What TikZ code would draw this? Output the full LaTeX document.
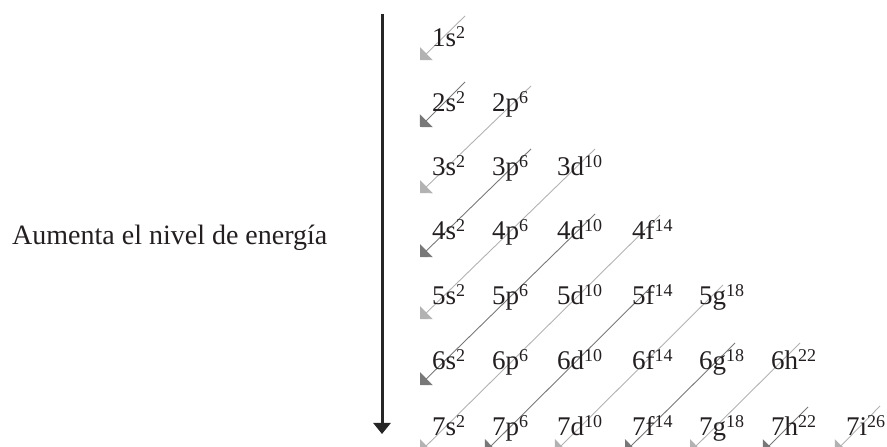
\documentclass[tikz,border=0pt]{standalone}
\usepackage{fontspec}
\setmainfont{Liberation Serif}
\usetikzlibrary{arrows.meta,backgrounds}
\definecolor{txt}{RGB}{35,31,32}
\definecolor{lightln}{RGB}{178,178,178}
\definecolor{darkln}{RGB}{120,120,120}
\newcommand{\orbtext}[3]{#1#2\raisebox{8.5pt}{\fontsize{18}{18}\selectfont #3}}
\tikzset{
  orb/.style={anchor=base west, inner sep=0pt, text=txt, font=\fontsize{27}{27}\selectfont},
  lbl/.style={anchor=base west, inner sep=0pt, text=txt, font=\fontsize{28}{28}\selectfont},
  diag/.style={line width=0.9pt, -{Triangle[width=18pt,length=9pt]}},
  lightarrow/.style={diag, draw=lightln},
  darkarrow/.style={diag, draw=darkln},
  mainarrow/.style={line width=3pt, draw=black!85, -{Triangle[width=17pt,length=11pt]}}
}
\begin{document}
\begin{tikzpicture}[x=1pt,y=1pt]
\clip (0,0) rectangle (887,447);
% label and main arrow
\node[lbl] (label) at (12,202) {Aumenta el nivel de energía};
\coordinate (atop) at (382,433);
\coordinate (abot) at (382,13);
\draw[mainarrow] (atop) -- (abot);
% orbitals
\node[orb] (s1) at (432,400) {\orbtext{1}{s}{2}};
\node[orb] (s2) at (432,335) {\orbtext{2}{s}{2}};
\node[orb] (p2) at (492,335) {\orbtext{2}{p}{6}};
\node[orb] (s3) at (432,271) {\orbtext{3}{s}{2}};
\node[orb] (p3) at (492,271) {\orbtext{3}{p}{6}};
\node[orb] (d3) at (557,271) {\orbtext{3}{d}{10}};
\node[orb] (s4) at (432,207) {\orbtext{4}{s}{2}};
\node[orb] (p4) at (492,207) {\orbtext{4}{p}{6}};
\node[orb] (d4) at (557,207) {\orbtext{4}{d}{10}};
\node[orb] (f4) at (632,207) {\orbtext{4}{f}{14}};
\node[orb] (s5) at (432,142) {\orbtext{5}{s}{2}};
\node[orb] (p5) at (492,142) {\orbtext{5}{p}{6}};
\node[orb] (d5) at (557,142) {\orbtext{5}{d}{10}};
\node[orb] (f5) at (632,142) {\orbtext{5}{f}{14}};
\node[orb] (g5) at (699,142) {\orbtext{5}{g}{18}};
\node[orb] (s6) at (432,77) {\orbtext{6}{s}{2}};
\node[orb] (p6) at (492,77) {\orbtext{6}{p}{6}};
\node[orb] (d6) at (557,77) {\orbtext{6}{d}{10}};
\node[orb] (f6) at (632,77) {\orbtext{6}{f}{14}};
\node[orb] (g6) at (699,77) {\orbtext{6}{g}{18}};
\node[orb] (h6) at (771,77) {\orbtext{6}{h}{22}};
\node[orb] (s7) at (432,11) {\orbtext{7}{s}{2}};
\node[orb] (p7) at (492,11) {\orbtext{7}{p}{6}};
\node[orb] (d7) at (557,11) {\orbtext{7}{d}{10}};
\node[orb] (f7) at (632,11) {\orbtext{7}{f}{14}};
\node[orb] (g7) at (699,11) {\orbtext{7}{g}{18}};
\node[orb] (h7) at (771,11) {\orbtext{7}{h}{22}};
\node[orb] (i7) at (846,11) {\orbtext{7}{i}{26}};
% diagonals
\begin{scope}[on background layer]
\draw[lightarrow] ([shift={(33,31)}]s1.base west) -- ([shift={(-12,-13)}]s1.base west);
\draw[darkarrow]  ([shift={(33,30)}]s2.base west) -- ([shift={(-12,-15)}]s2.base west);
\draw[lightarrow] ([shift={(39,26)}]p2.base west) -- ([shift={(-12,-17)}]s3.base west);
\draw[darkarrow]  ([shift={(39,27)}]p3.base west) -- ([shift={(-12,-17)}]s4.base west);
\draw[lightarrow] ([shift={(38,27)}]d3.base west) -- ([shift={(-12,-14)}]s5.base west);
\draw[darkarrow]  ([shift={(38,26)}]d4.base west) -- ([shift={(-12,-15)}]s6.base west);
\draw[lightarrow] ([shift={(28,25)}]f4.base west) -- ([shift={(-12,-16)}]s7.base west);
\draw[darkarrow]  ([shift={(21,20)}]f5.base west) -- ([shift={(-7,-16)}]p7.base west);
\draw[lightarrow] ([shift={(24,20)}]g5.base west) -- ([shift={(-2,-16)}]d7.base west);
\draw[darkarrow]  ([shift={(36,27)}]g6.base west) -- ([shift={(-7,-16)}]f7.base west);
\draw[lightarrow] ([shift={(29,27)}]h6.base west) -- ([shift={(-9,-16)}]g7.base west);
\draw[darkarrow]  ([shift={(37,29)}]h7.base west) -- ([shift={(-8,-16)}]h7.base west);
\draw[lightarrow] ([shift={(34,30)}]i7.base west) -- ([shift={(-11,-16)}]i7.base west);
\end{scope}
\end{tikzpicture}
\end{document}
